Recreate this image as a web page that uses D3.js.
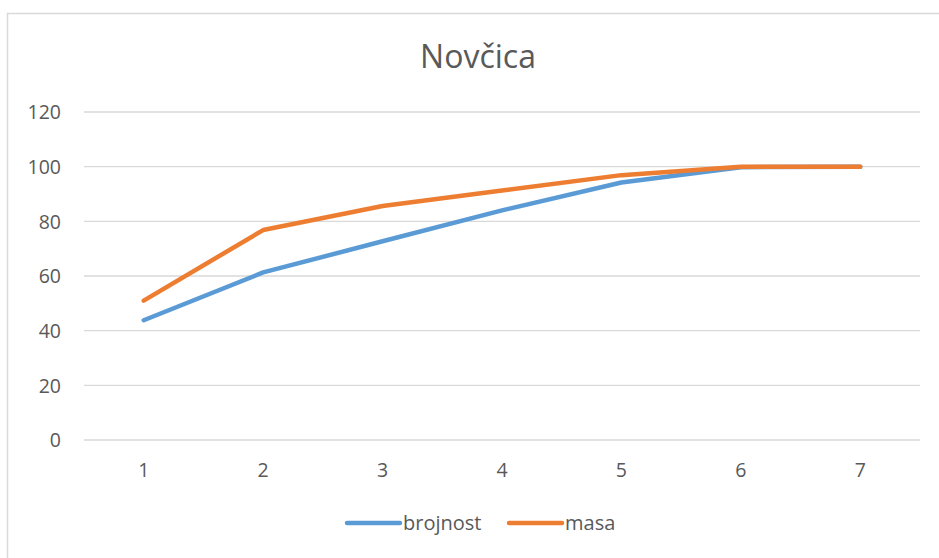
<!DOCTYPE html>
<html lang="en">
<head>
<meta charset="utf-8">
<title>Novčica</title>
<style>
  body { margin: 0; background: #fff; }
  svg text { font-family: "Open Sans", "Noto Sans", sans-serif; fill: #595959; }
  .grid line { stroke: #d9d9d9; stroke-width: 1.3px; }
</style>
</head>
<body>
<svg width="939" height="558"></svg>
<script src="https://cdnjs.cloudflare.com/ajax/libs/d3/7.8.5/d3.min.js"></script>
<script>
// chart data
var categories = [1, 2, 3, 4, 5, 6, 7];
var brojnost = [43.8, 61.3, 72.7, 84.0, 94.2, 99.8, 100];
var masa = [51.0, 76.8, 85.6, 91.3, 96.9, 100, 100];
var yTicks = [0, 20, 40, 60, 80, 100, 120];
var seriesNames = ["brojnost", "masa"];
var seriesColors = ["#5b9bd5", "#ed7d31"];

var svg = d3.select("svg");

// chart border (runs off the right and bottom of the picture)
svg.append("rect")
    .attr("x", 7.5).attr("y", 13.5)
    .attr("width", 960).attr("height", 600)
    .attr("fill", "none")
    .attr("stroke", "#d9d9d9")
    .attr("stroke-width", 1.5);

var plotLeft = 84, plotRight = 920, plotTop = 112, plotBottom = 440;

var x = d3.scaleBand().domain(categories).range([plotLeft, plotRight]);
var y = d3.scaleLinear().domain([0, 120]).range([plotBottom, plotTop]);

// title
svg.append("text")
    .attr("x", 478).attr("y", 68)
    .attr("text-anchor", "middle")
    .style("font-size", "32px")
    .text("Novčica");

// gridlines
svg.append("g").attr("class", "grid")
    .selectAll("line")
    .data(yTicks)
    .enter().append("line")
    .attr("x1", plotLeft).attr("x2", plotRight)
    .attr("y1", function (d) { return y(d); })
    .attr("y2", function (d) { return y(d); });

// y axis labels
var yAxis = d3.axisLeft(y).tickValues(yTicks).tickSize(0).tickPadding(0);
var gy = svg.append("g").attr("transform", "translate(61,0)").call(yAxis);
gy.select(".domain").remove();
gy.selectAll("text")
    .style("font-size", "19.5px")
    .attr("font-family", null)
    .attr("fill", null)
    .attr("dy", "0.35em");

// x axis labels
var xAxis = d3.axisBottom(x).tickSize(0).tickPadding(0);
var gx = svg.append("g").attr("transform", "translate(0,470)").call(xAxis);
gx.select(".domain").remove();
gx.selectAll("text")
    .style("font-size", "19.5px")
    .attr("font-family", null)
    .attr("fill", null)
    .attr("dy", "0.35em");

// lines
var line = d3.line()
    .x(function (d, i) { return x(categories[i]) + x.bandwidth() / 2; })
    .y(function (d) { return y(d); });

[brojnost, masa].forEach(function (vals, k) {
    svg.append("path")
        .datum(vals)
        .attr("d", line)
        .attr("fill", "none")
        .attr("stroke", seriesColors[k])
        .attr("stroke-width", 4.5)
        .attr("stroke-linecap", "round")
        .attr("stroke-linejoin", "round");
});

// legend
var legendX = [347, 509];
seriesNames.forEach(function (name, k) {
    var g = svg.append("g").attr("transform", "translate(" + legendX[k] + ",523)");
    g.append("line")
        .attr("x1", 0).attr("x2", 53)
        .attr("stroke", seriesColors[k])
        .attr("stroke-width", 4.5)
        .attr("stroke-linecap", "round");
    g.append("text")
        .attr("x", 56).attr("y", 0)
        .attr("dy", "0.35em")
        .style("font-size", "20px")
        .text(name);
});
</script>
</body>
</html>
